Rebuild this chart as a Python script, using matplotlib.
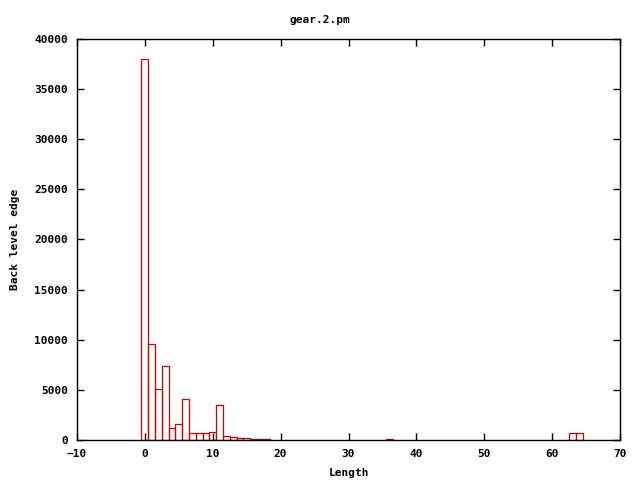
import matplotlib
matplotlib.use("Agg")
import matplotlib.pyplot as plt
import numpy as np

# histogram values
lengths = [0, 1, 2, 3, 4, 5, 6, 7, 8, 9, 10, 11, 12, 13, 14, 15, 16, 17, 18, 36, 63, 64]
counts = [38000, 9550, 5060, 7350, 1160, 1560, 4060, 670, 670, 670, 770, 3460,
          370, 270, 170, 170, 100, 100, 100, 100, 670, 670]

plt.rcParams['font.family'] = ['DejaVu Sans Mono']
plt.rcParams['font.weight'] = 'bold'
plt.rcParams['font.size'] = 8

fig = plt.figure(figsize=(6.4, 4.8), dpi=100)
ax = fig.add_axes([77 / 640, 40 / 480, 543 / 640, 401 / 480])

ax.bar(lengths, counts, width=1.0, fill=False, edgecolor='#cc0000', linewidth=0.9)

ax.set_xlim(-10, 70)
ax.set_ylim(0, 40000)
ax.set_xticks(np.arange(-10, 71, 10))
ax.set_yticks(np.arange(0, 40001, 5000))
ax.tick_params(direction='in', length=5, width=1, top=True, right=True, labelsize=8, pad=6.5)
for s in ax.spines.values():
    s.set_linewidth(1)

ax.set_xlabel('Length', fontsize=8, fontweight='bold', labelpad=6.5)
ax.set_ylabel('Back level edge', fontsize=8, fontweight='bold', labelpad=10)
fig.text(0.5, 1 - 20 / 480, 'gear.2.pm', ha='center', va='center', fontsize=8, fontweight='bold')

fig.savefig('out.png', dpi=100)
